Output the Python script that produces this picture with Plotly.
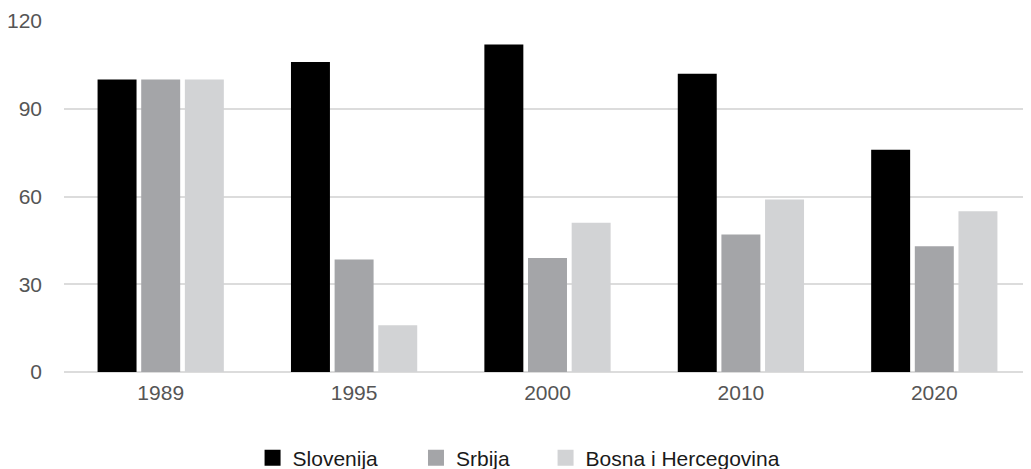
import plotly.graph_objects as go

years = ["1989", "1995", "2000", "2010", "2020"]
slovenija = [100, 106, 112, 102, 76]
srbija = [100, 38.5, 39, 47, 43]
bih = [100, 16, 51, 59, 55]
series_names = ["Slovenija", "Srbija", "Bosna i Hercegovina"]
colors = ["#000000", "#a4a5a8", "#d2d3d5"]
legend_ids = ["legend", "legend2", "legend3"]
legend_x = [0.195, 0.364, 0.498]

fig = go.Figure()
for name, vals, col in zip(series_names, [slovenija, srbija, bih], colors):
    fig.add_trace(go.Bar(x=years, y=vals, name=name, showlegend=False,
                         marker=dict(color=col, line=dict(width=0))))
# legend entries with larger square symbols, one legend per entry for spacing
for name, col, lid in zip(series_names, colors, legend_ids):
    fig.add_trace(go.Scatter(x=[None], y=[None], mode="markers", name=name, legend=lid,
                             marker=dict(symbol="square", size=18, color=col)))

legend_style = dict(orientation="h", xanchor="left", y=-0.245, yanchor="middle",
                    font=dict(size=21, color="#1a1a1a"), itemsizing="trace", itemwidth=30,
                    bgcolor="rgba(0,0,0,0)")

# page body adds 8px margin; figure sized to fill the rest of the window
fig.update_layout(
    width=1023, height=461,
    barmode="group", bargap=0.323, bargroupgap=0.107,
    plot_bgcolor="white", paper_bgcolor="white",
    margin=dict(l=56, r=0, t=13, b=97, autoexpand=False),
    font=dict(family="Liberation Sans, Arial, sans-serif", size=21, color="#555555"),
    legend=dict(x=legend_x[0], **legend_style),
    legend2=dict(x=legend_x[1], **legend_style),
    legend3=dict(x=legend_x[2], **legend_style),
    showlegend=True,
)
fig.update_yaxes(range=[0, 120], tickvals=[0, 30, 60, 90, 120], showgrid=True,
                 gridcolor="#dcdcdc", gridwidth=1.5, zeroline=True, zerolinecolor="#dcdcdc",
                 zerolinewidth=1.5, showline=False, ticks="", ticklabelstandoff=21)
fig.update_xaxes(showgrid=False, showline=False, ticks="", ticklabelstandoff=6)

fig.write_html("out.html")
